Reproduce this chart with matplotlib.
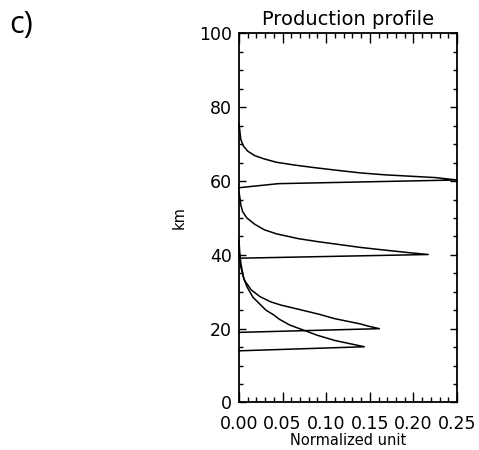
import matplotlib
matplotlib.use("Agg")
import matplotlib.pyplot as plt
from matplotlib.ticker import MultipleLocator

# production profiles: altitude (km) and normalized value
km_60 = [58.2, 59.3, 60.3, 60.95, 61.7, 62.2, 62.8, 63.6, 64.3, 65.1, 66.0, 66.9,
         68.1, 69.5, 71.3, 73.5, 75.5]
val_60 = [0.0, 0.045, 0.25, 0.225, 0.167, 0.140, 0.117, 0.088, 0.065, 0.043, 0.029,
          0.018, 0.010, 0.005, 0.002, 0.001, 0.0]

km_40 = [39.1, 40.1, 40.6, 41.3, 42.0, 42.8, 43.6, 44.4, 45.7, 46.8, 48.3, 50.0,
         51.8, 53.6, 55.5, 57.0]
val_40 = [0.0, 0.217, 0.195, 0.167, 0.140, 0.115, 0.090, 0.068, 0.043, 0.029, 0.018,
          0.009, 0.004, 0.002, 0.001, 0.0]

km_20 = [19.0, 20.0, 20.7, 21.3, 22.7, 23.9, 25.1, 26.4, 27.3, 28.7, 30.5, 33.2,
         36.8, 40.0, 42.0]
val_20 = [0.0, 0.161, 0.148, 0.139, 0.110, 0.092, 0.071, 0.048, 0.036, 0.024, 0.014,
          0.006, 0.002, 0.0005, 0.0]

km_15 = [14.0, 15.1, 16.8, 18.2, 19.7, 21.0, 22.6, 23.7, 25.0, 26.4, 28.5, 31.4,
         34.0, 37.8, 41.0, 44.0]
val_15 = [0.0, 0.1437, 0.110, 0.090, 0.073, 0.058, 0.046, 0.040, 0.031, 0.025, 0.016,
          0.009, 0.005, 0.002, 0.0007, 0.0]

x_ticks = [0.00, 0.05, 0.10, 0.15, 0.20, 0.25]
y_ticks = [0, 20, 40, 60, 80, 100]

fig = plt.figure(figsize=(4.79, 4.5), dpi=100)
ax = fig.add_axes([0.499, 0.1056, 0.455, 0.82])

for v, k in [(val_60, km_60), (val_40, km_40), (val_20, km_20), (val_15, km_15)]:
    ax.plot(v, k, color="black", lw=1.1, clip_on=False)

ax.set_xlim(0, 0.25)
ax.set_ylim(0, 100)
ax.set_xticks(x_ticks)
ax.set_xticklabels(["%.2f" % t for t in x_ticks])
ax.set_yticks(y_ticks)
ax.xaxis.set_minor_locator(MultipleLocator(0.01))
ax.yaxis.set_minor_locator(MultipleLocator(5))

ax.tick_params(which="both", direction="in", top=True, right=True, labelsize=12.5)
ax.tick_params(axis="x", which="major", length=7.5, pad=9, width=1)
ax.tick_params(axis="x", which="minor", length=3.3, width=1)
ax.tick_params(axis="y", which="major", length=5, pad=5, width=1)
ax.tick_params(axis="y", which="minor", length=2.7, width=1)
for s in ax.spines.values():
    s.set_linewidth(1.3)

ax.set_title("Production profile", fontsize=14, pad=6)
ax.set_xlabel("Normalized unit", fontsize=10.5, labelpad=0)
ax.set_ylabel("km", fontsize=10.5, labelpad=9)

fig.text(0.02, 0.945, "c)", fontsize=22, family=["Open Sans", "DejaVu Sans"], va="center")

fig.savefig("out.png", dpi=100)
